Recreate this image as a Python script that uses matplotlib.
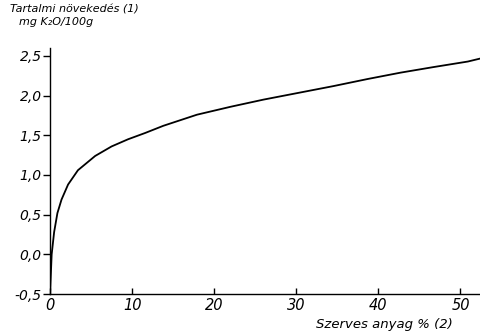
import matplotlib
matplotlib.use("Agg")
import matplotlib.pyplot as plt

# Szerves anyag % (x) es tartalmi novekedes mg K2O/100g (y), leolvasva
szerves = [0, 0.2, 0.5, 0.9, 1.4, 2.2, 3.4, 5.5, 7.5, 9.5, 11.6, 13.8, 17.9, 22.0,
           26.0, 30.5, 34.5, 38.7, 42.7, 46.7, 50.9, 52.5]
novekedes = [-0.5, 0.0, 0.28, 0.52, 0.69, 0.88, 1.06, 1.24, 1.36, 1.45, 1.53, 1.62, 1.76, 1.86,
             1.95, 2.04, 2.12, 2.21, 2.29, 2.36, 2.43, 2.47]

xticks = [0, 10, 20, 30, 40, 50]
yticks = [-0.5, 0.0, 0.5, 1.0, 1.5, 2.0, 2.5]
ytick_labels = ["-0,5", "0,0", "0,5", "1,0", "1,5", "2,0", "2,5"]

plt.rcParams["font.family"] = ["Liberation Sans Narrow", "DejaVu Sans"]
plt.rcParams["font.style"] = "italic"

fig = plt.figure(figsize=(4.81, 3.36), dpi=100)
ax = fig.add_axes([0.104, 0.125, 0.896, 0.732])

ax.plot(szerves, novekedes, color="black", lw=1.3, solid_capstyle="round",
        solid_joinstyle="round")

ax.set_xlim(0, 52.5)
ax.set_ylim(-0.5, 2.6)
ax.set_xticks(xticks)
ax.set_xticklabels([str(t) for t in xticks])
ax.set_yticks(yticks)
ax.set_yticklabels(ytick_labels)

for s in ["top", "right"]:
    ax.spines[s].set_visible(False)
for s in ["left", "bottom"]:
    ax.spines[s].set_linewidth(1.0)

ax.tick_params(axis="y", direction="out", length=5, width=1, labelsize=10, pad=1)
ax.tick_params(axis="x", direction="in", length=4, width=1, labelsize=10.5, pad=3)

fig.text(0.021, 0.973, "Tartalmi növekedés (1)", fontsize=8, ha="left", va="center")
fig.text(0.040, 0.934, "mg K₂O/100g", fontsize=8, ha="left", va="center")
fig.text(0.80, 0.033, "Szerves anyag % (2)", fontsize=9.5, ha="center", va="center")

fig.savefig("out.png", dpi=100)
